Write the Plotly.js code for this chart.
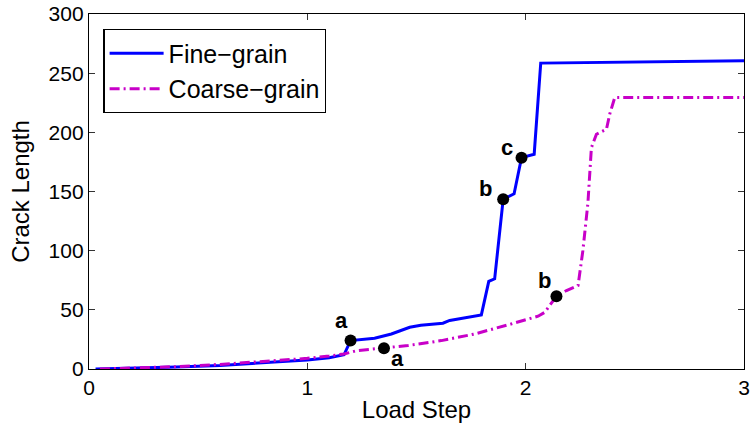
<!DOCTYPE html>
<html>
<head>
<meta charset="utf-8">
<script src="https://cdn.plot.ly/plotly-3.0.1.min.js"></script>
<style>html,body{margin:0;padding:0;background:#fff;}</style>
</head>
<body>
<div id="chart" style="width:751px;height:425px;"></div>
<script>
// Fine-grain series
var fineX = [0.03, 0.2, 0.4, 0.6, 0.8, 1.0, 1.1, 1.168, 1.198, 1.308, 1.385, 1.469, 1.52, 1.621, 1.652, 1.797, 1.831, 1.858, 1.897, 1.947, 1.981, 2.039, 2.069, 3.0];
var fineY = [0, 0.5, 1.6, 3.0, 5.2, 7.6, 9.5, 12, 24, 26, 29.6, 35.3, 37, 38.7, 41, 45.7, 74, 76.2, 143.4, 148.1, 178.6, 181.5, 258.5, 260.5];
// Coarse-grain series
var coarseX = [0.05, 0.2, 0.4, 0.6, 0.8, 1.0, 1.1, 1.168, 1.229, 1.351, 1.461, 1.614, 1.767, 1.919, 2.057, 2.088, 2.141, 2.187, 2.240, 2.262, 2.285, 2.301, 2.324, 2.370, 2.385, 2.408, 3.0];
var coarseY = [0, 0.7, 2.0, 3.9, 6.3, 9.0, 11, 12.7, 15.6, 17.5, 19.8, 24, 29.6, 37.3, 44.6, 48, 61.5, 66.3, 70.6, 100, 140, 187, 198.4, 202.6, 215.4, 229.4, 229.4];
// Marked points and their letters
var markX = [1.198, 1.897, 1.981, 1.351, 2.141];
var markY = [24, 143.4, 178.6, 17.5, 61.5];
var markLabels = ["a", "b", "c", "a", "b"];
// label offsets from each marked point (pixels)
var labelDX = [-9, -18, -15, 14, -12];
var labelDY = [20, 11, 10, -10, 16];
// Ticks
var xTicks = [0, 1, 2, 3];
var yTicks = [0, 50, 100, 150, 200, 250, 300];

var FONT = "Liberation Sans, Arial, Helvetica, sans-serif";

var traces = [
  {x: fineX, y: fineY, type: "scatter", mode: "lines", name: "Fine\u2212grain",
   line: {color: "#0000ff", width: 3}},
  {x: coarseX, y: coarseY, type: "scatter", mode: "lines", name: "Coarse\u2212grain",
   line: {color: "#c800c8", width: 3, dash: "10px,4px,2px,4px"}},
  {x: markX, y: markY, type: "scatter", mode: "markers", showlegend: false,
   marker: {color: "#000", size: 12}}
];

var annotations = markX.map(function (xv, i) {
  return {
    x: xv, y: markY[i], xref: "x", yref: "y", text: markLabels[i], showarrow: false,
    xshift: labelDX[i], yshift: labelDY[i], xanchor: "center", yanchor: "middle",
    font: {family: FONT, size: 22, color: "#000", weight: "bold"}
  };
});

var axisCommon = {
  showgrid: false, zeroline: false, showline: true, linecolor: "#000", linewidth: 1.2,
  mirror: "ticks", ticks: "inside", ticklen: 6, tickcolor: "#333", tickwidth: 1,
  tickfont: {family: FONT, size: 21, color: "#000"}
};

var layout = {
  width: 751, height: 425,
  margin: {l: 89, r: 7, t: 14, b: 56, pad: 0},
  paper_bgcolor: "#fff", plot_bgcolor: "#fff",
  font: {family: FONT, color: "#000"},
  xaxis: Object.assign({}, axisCommon, {
    range: [0, 3], tickvals: xTicks, ticktext: xTicks.map(String),
    title: {text: "Load Step", font: {family: FONT, size: 24, color: "#000"}, standoff: 2}
  }),
  yaxis: Object.assign({}, axisCommon, {
    range: [0, 300], tickvals: yTicks, ticktext: yTicks.map(String),
    title: {text: "Crack Length", font: {family: FONT, size: 24, color: "#000"}, standoff: 12}
  }),
  annotations: annotations,
  legend: {
    x: 0.022, y: 0.957, xanchor: "left", yanchor: "top",
    bgcolor: "#fff", bordercolor: "#000", borderwidth: 1.2,
    itemwidth: 54,
    font: {family: FONT, size: 25, color: "#000"}
  },
  showlegend: true
};

Plotly.newPlot("chart", traces, layout, {displayModeBar: false, staticPlot: true});
</script>
</body>
</html>
